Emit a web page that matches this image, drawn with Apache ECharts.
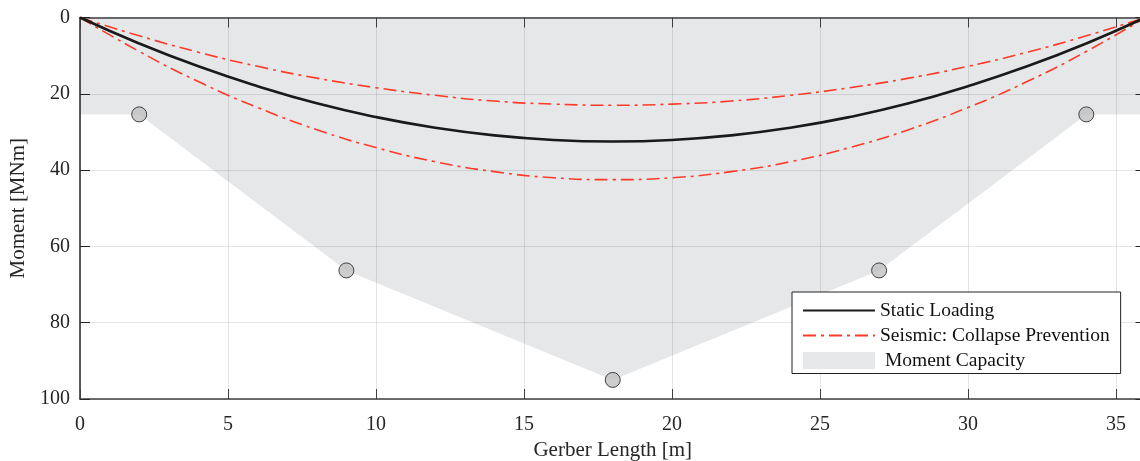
<!DOCTYPE html>
<html>
<head>
<meta charset="utf-8">
<script src="https://cdn.jsdelivr.net/npm/echarts@6/dist/echarts.min.js"></script>
<style>
    html, body { margin: 0; padding: 0; background: #fff; }
    #chart { width: 1140px; height: 461px; }
</style>
</head>
<body>
<div id="chart"></div>
<script>
// Gerber length positions [m]
const xs = [0, 2, 4, 6, 8, 10, 12, 14, 16, 18, 20, 22, 24, 26, 28, 30, 32, 34, 36]
// moment demand [MNm]
const staticLoading = [0, 6.8, 12.8, 18.0, 22.5, 26.1, 28.9, 30.9, 32.1, 32.5, 32.1, 30.9, 28.9, 26.1, 22.5, 18.0, 12.8, 6.8, 0]
const seismicUpper = [0, 4.8, 9.1, 12.8, 15.9, 18.4, 20.4, 21.9, 22.7, 23.0, 22.7, 21.9, 20.4, 18.4, 15.9, 12.8, 9.1, 4.8, 0]
const seismicLower = [0, 8.9, 16.8, 23.6, 29.4, 34.1, 37.8, 40.4, 42.0, 42.5, 42.0, 40.4, 37.8, 34.1, 29.4, 23.6, 16.8, 8.9, 0]
// moment capacity envelope
const capAreaX = [0, 2, 9, 18, 27, 34, 36]
const capAreaY = [25.4, 25.4, 66.3, 95, 66.3, 25.4, 25.4]
const capPointX = [2, 9, 18, 27, 34]
const capPointY = [25.4, 66.3, 95, 66.3, 25.4]

const pairs = (a, b) => a.map((v, i) => [v, b[i]])

const chart = echarts.init(document.getElementById('chart'))
const font = 'Liberation Serif'
const axisColor = '#262626'
const gridColor = 'rgba(0, 0, 0, 0.1)'
const shadeColor = '#e6e7e9'
const hideSymbol = { opacity: 0 }

const option = {
    animation: false,
    textStyle: { fontFamily: font },
    grid: { left: 80, right: -5.5, top: 17.5, bottom: 62, outerBoundsMode: 'none', containLabel: false },
    legend: {
        orient: 'vertical',
        left: 792,
        top: 292,
        backgroundColor: '#fff',
        borderColor: '#222',
        borderWidth: 1,
        borderRadius: 0,
        padding: [8.5, 11, 3, 10],
        itemGap: 5,
        itemWidth: 72,
        itemHeight: 17,
        textStyle: { fontFamily: font, fontSize: 19.5, color: '#111' },
        data: [
            { name: 'Static Loading', itemStyle: hideSymbol },
            { name: 'Seismic: Collapse Prevention', itemStyle: hideSymbol },
            { name: ' Moment Capacity', icon: 'rect', itemStyle: { color: shadeColor } },
        ],
    },
    xAxis: [
        {
            type: 'value',
            min: 0,
            max: 36,
            interval: 5,
            name: 'Gerber Length [m]',
            nameLocation: 'middle',
            nameGap: 36,
            nameTextStyle: { fontFamily: font, fontSize: 21, color: axisColor },
            axisLine: { show: true, onZero: false, lineStyle: { color: '#404040', width: 1.5 } },
            axisTick: { show: true, inside: true, length: 10, lineStyle: { color: '#404040' } },
            axisLabel: { fontFamily: font, fontSize: 20, color: axisColor, margin: 16, showMaxLabel: false },
            splitLine: { show: true, lineStyle: { color: gridColor } },
        },
        {
            type: 'value',
            position: 'top',
            min: 0,
            max: 36,
            interval: 5,
            axisLine: { show: true, onZero: false, lineStyle: { color: '#404040', width: 1.5 } },
            axisTick: { show: true, inside: true, length: 10, lineStyle: { color: '#404040' } },
            axisLabel: { show: false },
            splitLine: { show: false },
        },
    ],
    yAxis: [
        {
            type: 'value',
            inverse: true,
            min: 0,
            max: 100,
            interval: 20,
            name: 'Moment [MNm]',
            nameLocation: 'middle',
            nameGap: 50,
            nameTextStyle: { fontFamily: font, fontSize: 21, color: axisColor },
            axisLine: { show: true, onZero: false, lineStyle: { color: axisColor, width: 1.5 } },
            axisTick: { show: true, inside: true, length: 10, lineStyle: { color: axisColor } },
            axisLabel: { fontFamily: font, fontSize: 20, color: axisColor, margin: 10 },
            splitLine: { show: true, lineStyle: { color: gridColor } },
        },
        {
            type: 'value',
            position: 'right',
            inverse: true,
            min: 0,
            max: 100,
            interval: 20,
            axisLine: { show: true, onZero: false, lineStyle: { color: axisColor, width: 1.5 } },
            axisTick: { show: true, inside: true, length: 10, lineStyle: { color: axisColor } },
            axisLabel: { show: false },
            splitLine: { show: false },
        },
    ],
    series: [
        {
            name: ' Moment Capacity',
            type: 'line',
            data: pairs(capAreaX, capAreaY),
            symbol: 'none',
            lineStyle: { width: 0, opacity: 0 },
            areaStyle: { color: shadeColor, opacity: 1 },
            itemStyle: { color: shadeColor },
            z: -1,
        },
        {
            name: 'Static Loading',
            type: 'line',
            data: pairs(xs, staticLoading),
            smooth: true,
            symbol: 'none',
            lineStyle: { color: '#1a1a1a', width: 2.6 },
            itemStyle: { color: '#1a1a1a' },
            z: 3,
        },
        {
            name: 'Seismic: Collapse Prevention',
            type: 'line',
            data: pairs(xs, seismicUpper),
            smooth: true,
            symbol: 'none',
            lineStyle: { color: '#ff3a28', width: 1.6, type: [13, 5, 3, 5] },
            itemStyle: { color: '#ff3a28' },
            z: 2,
        },
        {
            name: 'Seismic: Collapse Prevention',
            type: 'line',
            data: pairs(xs, seismicLower),
            smooth: true,
            symbol: 'none',
            lineStyle: { color: '#ff3a28', width: 1.6, type: [13, 5, 3, 5] },
            itemStyle: { color: '#ff3a28' },
            z: 2,
        },
        {
            name: 'capacity points',
            type: 'scatter',
            data: pairs(capPointX, capPointY),
            symbol: 'circle',
            symbolSize: 15,
            itemStyle: { color: '#c0c0c0', borderColor: '#1a1a1a', borderWidth: 1 },
            z: 5,
        },
    ],
}
chart.setOption(option)
</script>
</body>
</html>
